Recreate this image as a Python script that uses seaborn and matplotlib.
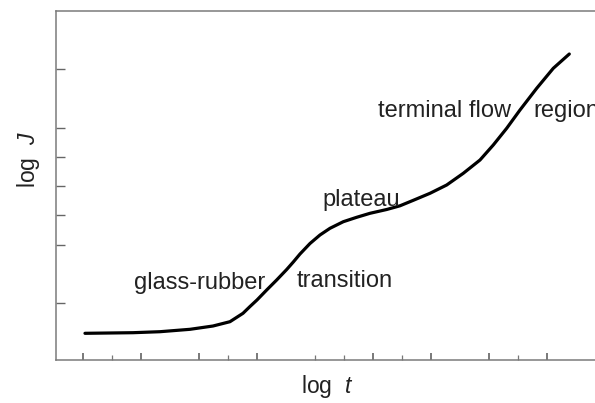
import matplotlib
matplotlib.use("Agg")
import matplotlib.pyplot as plt
import seaborn as sns
import pandas as pd

# Creep compliance curve, log J versus log t (arbitrary units)
log_t = [1.069, 2.724, 3.655, 4.690, 5.483, 6.069, 6.517, 6.759, 7.000,
         7.334, 7.679, 8.024, 8.252, 8.483, 8.828, 9.172, 9.517, 9.976,
         10.438, 10.897, 11.472, 11.931, 12.390, 12.966, 13.541, 14.114,
         14.690, 15.148, 15.610, 16.069, 16.645, 17.217, 17.769]
log_J = [0.962, 0.983, 1.017, 1.099, 1.212, 1.360, 1.647, 1.880, 2.103,
         2.445, 2.788, 3.147, 3.404, 3.678, 4.038, 4.329, 4.558, 4.784,
         4.935, 5.072, 5.202, 5.329, 5.517, 5.757, 6.041, 6.442,
         6.897, 7.411, 7.983, 8.610, 9.353, 10.038, 10.527]

x_major_ticks = [1, 3, 5, 7, 11, 13, 15, 17]
x_minor_ticks = [2, 6, 9, 10, 12, 16]
y_ticks = [2, 4, 5, 6, 7, 8, 10]

region_labels = ["glass-rubber", "transition", "plateau", "terminal flow", "region"]
label_x = [2.76, 8.38, 9.24, 11.17, 16.52]
label_y = [2.48, 2.55, 5.32, 8.37, 8.37]

sns.set_style("ticks")
plt.rcParams["font.family"] = ["Liberation Sans", "DejaVu Sans"]
plt.rcParams["mathtext.fontset"] = "custom"
plt.rcParams["mathtext.rm"] = "Liberation Sans"
plt.rcParams["mathtext.it"] = "Liberation Sans:italic"

fig = plt.figure(figsize=(5.95, 4.03), dpi=100)
ax = fig.add_axes([56 / 595, 1 - 360 / 403, 563.5 / 595, 349 / 403])

df = pd.DataFrame({"log_t": log_t, "log_J": log_J})
sns.lineplot(data=df, x="log_t", y="log_J", ax=ax, color="black",
             linewidth=2.3, sort=False)
ax.lines[0].set_solid_joinstyle("round")
ax.lines[0].set_solid_capstyle("round")

ax.set_xlim(0.07, 19.5)
ax.set_ylim(0.048, 12.0)

for side in ["left", "bottom", "top"]:
    ax.spines[side].set_color("#7a7a7a")
    ax.spines[side].set_linewidth(1.1)
ax.spines["right"].set_visible(False)

ax.set_xticks(x_major_ticks)
ax.set_xticks(x_minor_ticks, minor=True)
ax.set_yticks(y_ticks)
ax.tick_params(axis="x", which="major", direction="in", length=5.3,
               width=1.1, color="#555555", labelbottom=False)
ax.tick_params(axis="x", which="minor", direction="in", length=3.6,
               width=0.9, color="#777777")
ax.tick_params(axis="y", which="major", direction="in", length=6.5,
               width=1.0, color="#666666", labelleft=False)
ax.set_xlabel("")
ax.set_ylabel("")

for txt, tx, ty in zip(region_labels, label_x, label_y):
    ax.text(tx, ty, txt, fontsize=17, color="#222222", ha="left",
            va="baseline")

fig.text(327 / 595, 1 - 386 / 403, "log  $t$", fontsize=16.5,
         color="#222222", ha="center", va="center")
fig.text(29 / 595, 1 - 160 / 403, "log  $J$", fontsize=16.5,
         color="#222222", ha="center", va="center", rotation=90)

fig.savefig("out.png", dpi=100)
